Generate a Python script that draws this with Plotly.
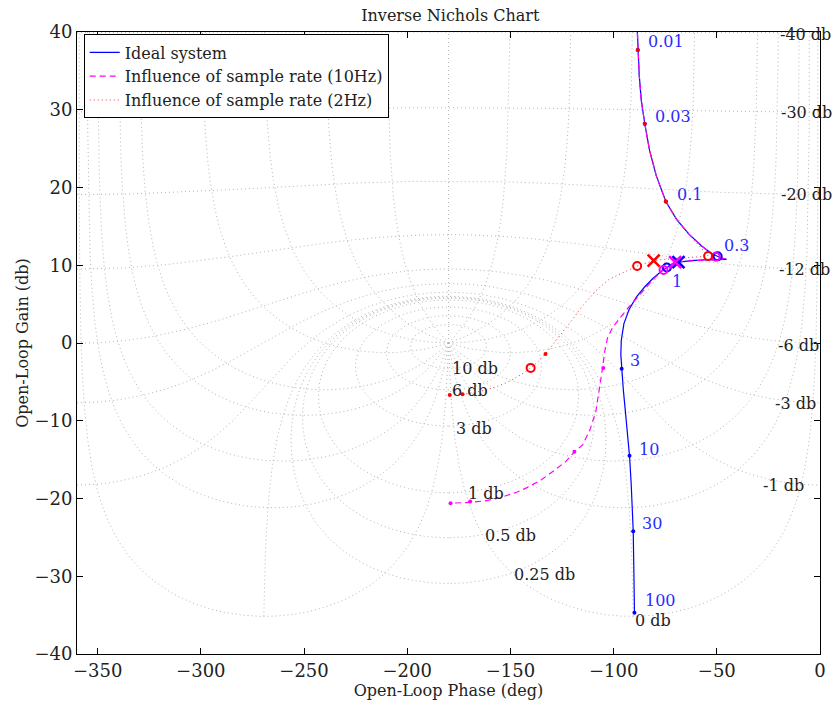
import numpy as np
import plotly.graph_objects as go

# ---------------- grid definition ----------------
m_levels_db = [10, 6, 3, 1, 0.5, 0.25, 0, -1, -3, -6, -12, -20, -30, -40]
n_levels_deg = [1, 5, 10, 20, 30, 60, 90, 120, 150, 180,
                -1, -5, -10, -20, -30, -60, -90, -120, -150]

m_label_text = ["10 db", "6 db", "3 db", "1 db", "0.5 db", "0.25 db", "0 db",
                "-1 db", "-3 db", "-6 db", "-12 db", "-20 db", "-30 db", "-40 db"]
m_label_phase = [-179.3, -179.3, -177.4, -171.6, -163.4, -149.0, -90.8,
                 -28.8, -22.6, -21.1, -20.7, -19.7, -19.7, -20.2]
m_label_gain = [-3.3, -6.1, -11.0, -19.4, -24.8, -29.8, -35.7,
                -18.3, -7.8, -0.3, 9.5, 19.1, 29.6, 39.7]

# ---------------- curves ----------------
ideal_phase = [-89.3, -88.6, -88.3, -87.6, -86.6, -84.9, -82.6, -79.3, -74.7, -69.5,
               -63.5, -57.5, -52.5, -48.5, -45.3, -50.0, -56.0, -62.0, -68.6, -73.0,
               -77.0, -81.0, -85.0, -89.0, -92.5, -95.0, -96.3, -96.5, -96.1, -95.3,
               -94.3, -93.3, -92.3, -91.5, -90.9, -90.5, -90.2, -89.9]
ideal_gain = [45.0, 40.0, 37.7, 34.5, 31.2, 28.2, 24.8, 21.5, 18.2, 15.9,
              14.0, 12.5, 11.5, 11.0, 10.75, 10.75, 10.7, 10.6, 10.4, 9.9,
              9.2, 8.3, 7.2, 5.9, 4.3, 2.5, 0.3, -1.5, -3.3, -6.0,
              -8.8, -11.6, -14.5, -18.0, -21.0, -24.2, -29.0, -34.7]

s10_phase = [-89.3, -88.6, -88.3, -87.6, -86.6, -84.9, -82.6, -79.3, -74.7, -69.5,
             -63.5, -57.5, -52.5, -48.5, -45.6, -52.0, -60.0, -66.0, -70.2, -73.5,
             -76.5, -80.0, -84.0, -88.5, -93.0, -97.0, -100.5, -103.0, -104.4, -105.4,
             -107.0, -108.6, -111.5, -115.0, -119.0, -123.0, -127.8, -135.0, -142.0, -147.0,
             -155.0, -162.0, -170.0, -179.0]
s10_gain = [45.0, 40.0, 37.7, 34.5, 31.2, 28.2, 24.8, 21.5, 18.2, 15.9,
            14.0, 12.5, 11.5, 11.0, 10.8, 10.75, 10.6, 10.5, 10.4, 9.9,
            9.3, 8.4, 7.2, 5.9, 4.5, 3.2, 2.0, 0.6, -1.2, -3.3,
            -6.2, -8.8, -11.2, -13.1, -14.0, -15.2, -16.2, -17.6, -18.6, -19.2,
            -19.9, -20.3, -20.5, -20.6]

s2_phase = [-89.3, -88.6, -88.3, -87.6, -86.6, -84.9, -82.6, -79.3, -74.7, -69.5,
            -63.5, -58.0, -54.2, -58.0, -64.0, -70.0, -75.5, -80.6, -84.5, -88.6,
            -95.0, -102.2, -108.6, -115.0, -120.0, -124.6, -128.5, -133.0, -137.0, -140.2,
            -145.0, -150.3, -155.5, -160.7, -167.0, -173.2, -179.4]
s2_gain = [45.0, 40.0, 37.7, 34.5, 31.2, 28.2, 24.8, 21.5, 18.2, 15.9,
           14.0, 12.3, 11.2, 11.1, 11.0, 10.9, 10.75, 10.6, 10.3, 9.9,
           9.1, 8.2, 6.7, 4.8, 3.0, 1.4, 0.1, -1.4, -2.5, -3.2,
           -4.1, -4.9, -5.5, -5.95, -6.35, -6.6, -6.7]

# frequency marks and labels on the ideal system
freq_labels = ["0.01", "0.03", "0.1", "0.3", "1", "3", "10", "30", "100"]
freq_label_phase = [-84.1, -80.7, -70.2, -47.6, -72.6, -93.2, -88.9, -87.0, -86.0]
freq_label_gain = [38.8, 29.1, 19.1, 12.6, 7.9, -2.3, -13.7, -23.2, -33.1]
ideal_dot_phase = [-88.3, -84.9, -74.7, -96.1, -92.3, -90.5, -89.9]
ideal_dot_gain = [37.7, 28.2, 18.2, -3.3, -14.5, -24.2, -34.7]
s10_dot_phase = [-105.0, -119.0, -169.5, -179.0]
s10_dot_gain = [-3.2, -14.0, -20.4, -20.6]
s2_dot_phase = [-88.3, -84.9, -74.7, -133.0, -173.2, -179.4]
s2_dot_gain = [37.7, 28.2, 18.2, -1.4, -6.6, -6.7]

# special points (circles and crosses)
circ_red_phase = [-54.2, -88.6, -140.2]
circ_red_gain = [11.2, 9.9, -3.2]
circ_mag_phase = [-50.5, -75.8]
circ_mag_gain = [11.1, 9.4]
circ_blue_phase = [-49.6, -74.2]
circ_blue_gain = [11.15, 9.7]
x_red = ([-80.6], [10.6])
x_mag = ([-70.2], [10.4])
x_blue = ([-68.6], [10.4])

x_ticks = [-350, -300, -250, -200, -150, -100, -50, 0]
y_ticks = [-40, -30, -20, -10, 0, 10, 20, 30, 40]

# ---------------- build grid lines ----------------
def wrap_phase(ang):
    d = np.degrees(ang)
    return np.where(d > 0, d - 360.0, d)

gx, gy = [], []
for m in m_levels_db:
    R = 10 ** (-m / 20.0)
    if m == 0:
        t = np.radians(np.arange(1.0, 359.01, 0.25))
    else:
        t = np.linspace(1e-6, 2 * np.pi - 1e-6, 1500)
    H = -1 + R * np.exp(1j * t)
    ph = wrap_phase(np.angle(H))
    g = 20 * np.log10(np.abs(H))
    gx += list(ph) + [None]
    gy += list(g) + [None]

r = np.unique(np.concatenate([np.geomspace(1e-4, 1e3, 3000), np.linspace(0.9, 1.1, 3000)]))
for psi in n_levels_deg:
    H = -1 + r * np.exp(1j * np.radians(psi))
    ph = wrap_phase(np.angle(H))
    g = 20 * np.log10(np.abs(H))
    keep = g < 60
    gx += list(ph[keep]) + [None]
    gy += list(g[keep]) + [None]

FONT = "DejaVu Serif"
TXT = "#222222"
fig = go.Figure()
fig.add_trace(go.Scatter(x=gx, y=gy, mode="lines", showlegend=False, hoverinfo="skip",
                         line=dict(color="#b4b4b4", width=1, dash="1px,3px")))

fig.add_trace(go.Scatter(x=ideal_phase, y=ideal_gain, mode="lines", name="Ideal system",
                         line=dict(color="#0000ff", width=1.2)))
fig.add_trace(go.Scatter(x=s10_phase, y=s10_gain, mode="lines", name="Influence of sample rate (10Hz)",
                         line=dict(color="#ff00ff", width=1.2, dash="6px,4px")))
fig.add_trace(go.Scatter(x=s2_phase, y=s2_gain, mode="lines", name="Influence of sample rate (2Hz)",
                         line=dict(color="#ff3030", width=1, dash="1px,3px")))

def dots(xs, ys, col, size=4):
    fig.add_trace(go.Scatter(x=xs, y=ys, mode="markers", showlegend=False, hoverinfo="skip",
                             marker=dict(color=col, size=size, line=dict(width=0))))

dots(ideal_dot_phase, ideal_dot_gain, "#0000ff")
dots(s10_dot_phase, s10_dot_gain, "#ff00ff")
dots(s2_dot_phase, s2_dot_gain, "#ff0000")

def sym(xs, ys, col, symbol, size, w=2):
    fig.add_trace(go.Scatter(x=xs, y=ys, mode="markers", showlegend=False, hoverinfo="skip",
                             marker=dict(symbol=symbol, size=size, color=col,
                                         line=dict(color=col, width=w))))

sym(circ_blue_phase, circ_blue_gain, "#0000ff", "circle-open", 8)
sym(circ_mag_phase, circ_mag_gain, "#ff00ff", "circle-open", 8)
sym(circ_red_phase, circ_red_gain, "#ff0000", "circle-open", 8)
sym(*x_blue, "#0000ff", "x-thin-open", 12, 2.5)
sym(*x_mag, "#ff00ff", "x-thin-open", 12, 2.5)
sym(*x_red, "#ff0000", "x-thin-open", 12, 2.5)

ann = []
for t, px, py in zip(m_label_text, m_label_phase, m_label_gain):
    ann.append(dict(x=px, y=py, xref="x", yref="y", text=t, showarrow=False,
                    xanchor="left", yanchor="middle",
                    font=dict(family=FONT, size=16, color=TXT)))
for t, px, py in zip(freq_labels, freq_label_phase, freq_label_gain):
    ann.append(dict(x=px, y=py, xref="x", yref="y", text=t, showarrow=False,
                    xanchor="left", yanchor="middle",
                    font=dict(family=FONT, size=16, color="#2a2aff")))

fig.update_layout(
    width=837, height=705,
    margin=dict(l=77, r=11, t=32, b=49),
    paper_bgcolor="white", plot_bgcolor="white",
    font=dict(family=FONT, size=16, color=TXT),
    title=dict(text="Inverse Nichols Chart", x=0.538, xanchor="center", y=1 - 15 / 705,
               yref="container", yanchor="middle", font=dict(family=FONT, size=16, color=TXT)),
    showlegend=True,
    legend=dict(x=0.009, y=0.996, xanchor="left", yanchor="top", bgcolor="white",
                bordercolor="black", borderwidth=1, font=dict(family=FONT, size=16, color=TXT),
                tracegroupgap=0, itemwidth=30),
    annotations=ann,
)
fig.update_xaxes(range=[-360, 0], tickvals=x_ticks, ticks="inside", ticklen=6, tickcolor="black",
                 showline=True, linecolor="black", linewidth=1, mirror="ticks",
                 showgrid=False, zeroline=False, tickfont=dict(family=FONT, size=18, color=TXT),
                 title=dict(text="Open-Loop Phase (deg)", standoff=2,
                            font=dict(family=FONT, size=16, color=TXT)))
fig.update_yaxes(range=[-40, 40], tickvals=y_ticks, ticks="inside", ticklen=6, tickcolor="black",
                 showline=True, linecolor="black", linewidth=1, mirror="ticks",
                 showgrid=False, zeroline=False, tickfont=dict(family=FONT, size=18, color=TXT),
                 title=dict(text="Open-Loop Gain (db)", standoff=1,
                            font=dict(family=FONT, size=16, color=TXT)))

fig.write_html("out.html")
